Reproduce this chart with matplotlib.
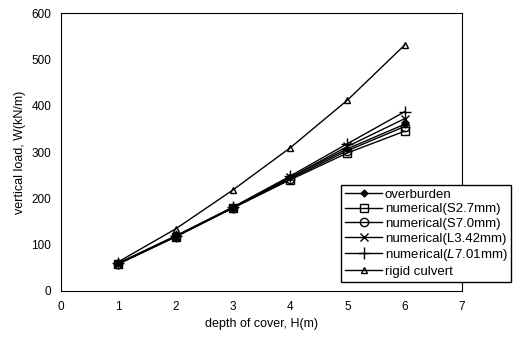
import matplotlib
matplotlib.use("Agg")
import matplotlib.pyplot as plt

plt.rcParams['font.family'] = ['Liberation Sans', 'DejaVu Sans']

# Data
depth = [1, 2, 3, 4, 5, 6]
overburden = [60, 118, 180, 245, 307, 360]
num_s27 = [58, 117, 179, 240, 298, 345]
num_s70 = [59, 118, 180, 242, 303, 355]
num_l342 = [59, 117, 180, 245, 312, 372]
num_l701 = [60, 119, 181, 248, 318, 387]
rigid = [63, 134, 218, 309, 412, 531]

labels = ["overburden", "numerical(S2.7mm)", "numerical(S7.0mm)",
          "numerical(L3.42mm)", "numerical($\\it{L}$7.01mm)", "rigid culvert"]

fig = plt.figure(figsize=(5.22, 3.39), dpi=100)
ax = fig.add_axes([0.117, 0.1416, 0.768, 0.82])

ax.plot(depth, overburden, 'k-', marker='D', ms=3.5, lw=1, label=labels[0])
ax.plot(depth, num_s27, 'k-', marker='s', ms=6, mfc='none', lw=1, label=labels[1])
ax.plot(depth, num_s70, 'k-', marker='o', ms=6, mfc='none', lw=1, label=labels[2])
ax.plot(depth, num_l342, 'k-', marker='x', ms=6, lw=1, label=labels[3])
ax.plot(depth, num_l701, 'k-', marker='+', ms=8, lw=1, label=labels[4])
ax.plot(depth, rigid, 'k-', marker='^', ms=5, mfc='none', lw=1, label=labels[5])

ax.set_xlim(0, 7)
ax.set_ylim(0, 600)
ax.set_xticks(range(0, 8))
ax.set_yticks(range(0, 601, 100))
ax.tick_params(labelsize=8.5, length=0, pad=7)
for s in ax.spines.values():
    s.set_linewidth(0.8)
ax.set_xlabel("depth of cover, H(m)", fontsize=9)
ax.set_ylabel("vertical load, W(kN/m)", fontsize=9)

fig.legend(loc='lower left', bbox_to_anchor=(0.641, 0.15), fontsize=9.5,
           frameon=True, fancybox=False, edgecolor='black', framealpha=1,
           handlelength=2.8, borderpad=0.3, labelspacing=0.18, handletextpad=0.2)

fig.savefig("out.png", dpi=100)
